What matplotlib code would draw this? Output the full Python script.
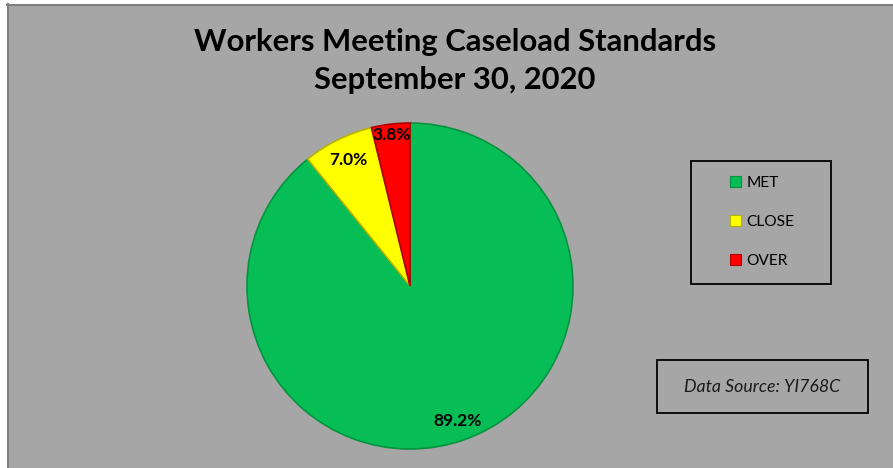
import matplotlib
matplotlib.use("Agg")
import matplotlib.pyplot as plt
from matplotlib.patches import Rectangle
import numpy as np

categories = ["MET", "CLOSE", "OVER"]
values = [89.2, 7.0, 3.8]
colors = ["#07BD55", "#FFFF00", "#FF0000"]
edge_colors = ["#05933F", "#B5B500", "#B00000"]
label_dist = [0.88, 0.86, 0.93]

title_lines = ["Workers Meeting Caseload Standards", "September 30, 2020"]
source_text = "Data Source: YI768C"

W, H = 893, 468
fig = plt.figure(figsize=(W / 100, H / 100), dpi=100)
fig.patch.set_facecolor("white")

def fx(x):
    return x / W

def fy(y):
    return 1 - y / H

# chart area background with border
bg = Rectangle((fx(7), 0), 1 - fx(7), fy(4), transform=fig.transFigure,
               facecolor="#A6A6A6", edgecolor="none", zorder=-10)
fig.patches.append(bg)
fig.add_artist(plt.Line2D([fx(7), fx(893)], [fy(4.5), fy(4.5)], transform=fig.transFigure,
                          color="#7F7F7F", lw=1.5, zorder=-5))
fig.add_artist(plt.Line2D([fx(7.5), fx(7.5)], [fy(4), fy(468)], transform=fig.transFigure,
                          color="#7F7F7F", lw=1.5, zorder=-5))

for line, base in zip(title_lines, [51, 89]):
    fig.text(fx(455), fy(base), line, ha="center", va="baseline", fontsize=22.3,
             fontweight="bold", family="Lato", color="black")

# pie
cx, cy, r = 410, 286, 163
ax = fig.add_axes([fx(cx - r), fy(cy + r), fx(2 * r), (2 * r) / H])
ax.set_zorder(2)
ax.axis("off")

wedges, _ = ax.pie(values, colors=colors, startangle=90, counterclock=False,
                   radius=1.0, wedgeprops=dict(linewidth=1.2))
for w, ec in zip(wedges, edge_colors):
    w.set_edgecolor(ec)
ax.set_xlim(-1, 1)
ax.set_ylim(-1, 1)
ax.set_aspect("equal")

for w, v, d in zip(wedges, values, label_dist):
    ang = np.deg2rad((w.theta1 + w.theta2) / 2)
    ax.text(d * np.cos(ang), d * np.sin(ang), f"{v:.1f}%", ha="center", va="center",
            fontsize=12.5, fontweight="bold", family="Lato", color="black")

# legend
fig.patches.append(Rectangle((fx(691), fy(284)), fx(831 - 691), (284 - 161) / H,
                             transform=fig.transFigure, facecolor="none",
                             edgecolor="black", lw=1.3, zorder=3))
handles = [Rectangle((0, 0), 1, 1, facecolor=c, edgecolor=e, lw=0.8)
           for c, e in zip(colors, edge_colors)]
fig.legend(handles, categories, loc="center", bbox_to_anchor=(fx(762), fy(222)),
           frameon=False, handlelength=0.75, handleheight=0.75,
           handletextpad=0.3, labelspacing=1.6, prop=dict(family="Lato", size=11.2))

# data source box
fig.patches.append(Rectangle((fx(657), fy(413)), fx(868 - 657), (413 - 360) / H,
                             transform=fig.transFigure, facecolor="none",
                             edgecolor="black", lw=1.3, zorder=3))
fig.text(fx(762.5), fy(386.5), source_text, ha="center", va="center", fontsize=12.8,
         style="italic", family="Lato", color="#1a1a1a")

fig.savefig("out.png", dpi=100)
